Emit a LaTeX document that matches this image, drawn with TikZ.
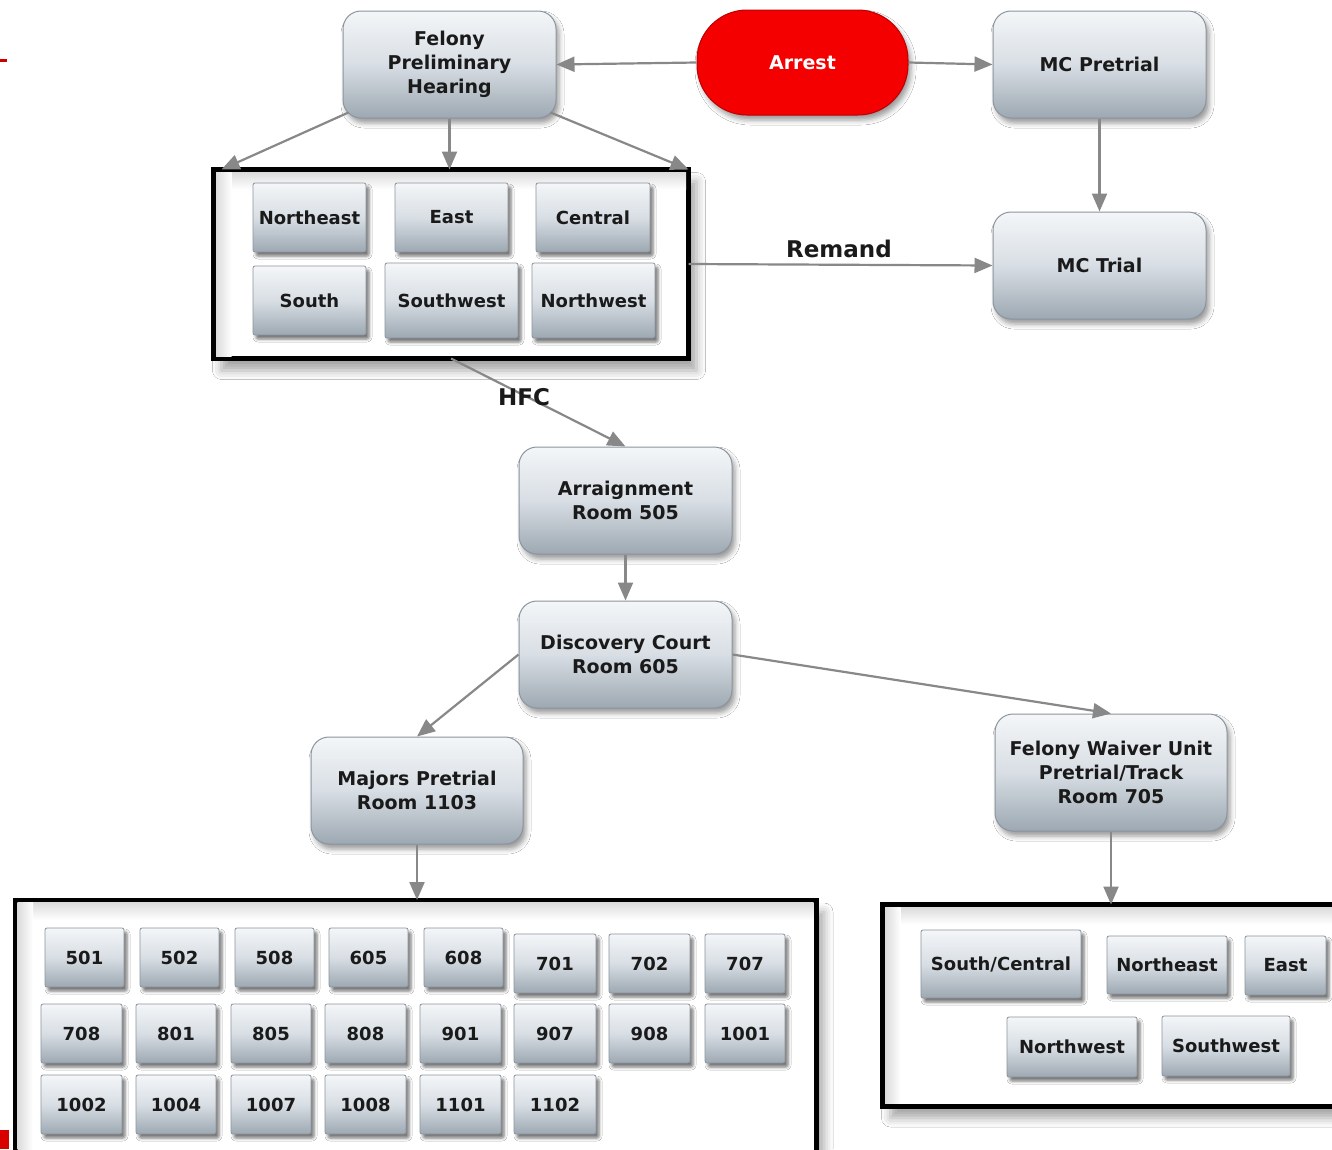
\documentclass[tikz,border=0pt]{standalone}
\usepackage{fontspec}
\setmainfont{DejaVu Sans}
\usetikzlibrary{shadows.blur,arrows.meta,calc}
\definecolor{boxtop}{HTML}{F4F6F8}
\definecolor{boxmid}{HTML}{D8DEE4}
\definecolor{boxbot}{HTML}{9DA8B2}
\definecolor{boxline}{HTML}{8C959E}
\definecolor{arrowgray}{HTML}{888888}
\definecolor{txt}{HTML}{1A1A1A}
\definecolor{arrestred}{HTML}{F40000}
\tikzset{
 bigbox/.style={draw=boxline, line width=1pt, rounded corners=18pt, top color=boxtop, bottom color=boxbot, middle color=boxmid, minimum width=213pt, minimum height=107pt, inner sep=0pt, align=center, text=txt, font=\fontsize{19}{24}\selectfont\bfseries, blur shadow={shadow xshift=3pt, shadow yshift=-5pt, shadow blur radius=5pt, shadow opacity=40}},
 smallbox/.style={draw=boxline, line width=0.8pt, rounded corners=2pt, top color=boxtop, bottom color=boxbot, middle color=boxmid, inner sep=0pt, text=txt, font=\fontsize{18}{22}\selectfont\bfseries, blur shadow={shadow xshift=3pt, shadow yshift=-4pt, shadow blur radius=3pt, shadow opacity=55}},
 groupframe/.style={draw=black, line width=5pt, fill=white, inner sep=0pt, outer sep=0pt, blur shadow={shadow xshift=8pt, shadow yshift=-12pt, shadow blur radius=9pt, shadow opacity=35}},
 flow/.style={draw=arrowgray, line width=2.2pt, -{Triangle[length=18pt,width=15pt]}},
 lbl/.style={font=\fontsize{23}{26}\selectfont\bfseries, text=txt, inner sep=0pt},
}
\begin{document}
\begin{tikzpicture}[x=1pt,y=-1pt]
\useasboundingbox (0,0) rectangle (1332,1149);
\clip (0,0) rectangle (1332,1149);
\fill[white] (0,0) rectangle (1332,1149);
\fill[red!80!black] (0,59) rectangle (7,62);
\fill[red!85!black] (0,1130) rectangle (9,1149);

% group frames
\node[groupframe, minimum width=475pt, minimum height=189pt] (topframe) at (451,264) {};
\node[groupframe, minimum width=801pt, minimum height=270pt] (botframe) at (415.5,1035) {};
\node[groupframe, minimum width=467.5pt, minimum height=201.5pt] (rframe) at (1116.25,1005.25) {};
\foreach \f in {topframe,botframe,rframe}{
 \shade[top color=gray!28, bottom color=white] ($(\f.north west)+(2.5,2.5)$) rectangle ($(\f.north east)+(-2.5,20)$);
 \shade[left color=gray!28, right color=white] ($(\f.north west)+(2.5,2.5)$) rectangle ($(\f.south west)+(18,-2.5)$);
}

% top group
\node[smallbox, minimum width=113pt, minimum height=69pt] (tne) at (309.5,217.5) {Northeast};
\node[smallbox, minimum width=113pt, minimum height=69pt] (te) at (451.5,217.5) {East};
\node[smallbox, minimum width=114pt, minimum height=69pt] (tc) at (593,217.5) {Central};
\node[smallbox, minimum width=113pt, minimum height=69pt] (ts) at (309.5,300.5) {South};
\node[smallbox, minimum width=133pt, minimum height=75pt] (tsw) at (451.5,300.5) {Southwest};
\node[smallbox, minimum width=123pt, minimum height=75pt] (tnw) at (593.5,300.5) {Northwest};

% bottom-left group
\foreach \t/\cx/\w in {501/84.5/79,502/179.5/79,508/274.5/79,605/368.5/79,608/463.5/79}
 \node[smallbox, minimum width=\w pt, minimum height=59pt] (r\t) at (\cx,957.5) {\t};
\foreach \t/\cx/\w in {701/555/82,702/649.5/81,707/745/80}
 \node[smallbox, minimum width=\w pt, minimum height=59pt] (r\t) at (\cx,963.5) {\t};
\foreach \t/\cx/\w in {708/81.5/81,801/176/80,805/271/80,808/365.5/81,901/460.5/81,907/555/82,908/649.5/81,1001/745/80}
 \node[smallbox, minimum width=\w pt, minimum height=59pt] (r\t) at (\cx,1033.5) {\t};
\foreach \t/\cx/\w in {1002/81.5/81,1004/176/80,1007/271/80,1008/365.5/81,1101/460.5/81,1102/555/82}
 \node[smallbox, minimum width=\w pt, minimum height=59pt] (r\t) at (\cx,1104.5) {\t};

% bottom-right group
\node[smallbox, minimum width=160pt, minimum height=68pt] (bsc) at (1001,964) {South/Central};
\node[smallbox, minimum width=120pt, minimum height=58pt] (bne) at (1167,965) {Northeast};
\node[smallbox, minimum width=81pt, minimum height=59pt] (be) at (1285.5,965.5) {East};
\node[smallbox, minimum width=130pt, minimum height=60pt] (bnw) at (1072,1047) {Northwest};
\node[smallbox, minimum width=128pt, minimum height=60pt] (bsw) at (1226,1046) {Southwest};

% main nodes
\node[bigbox] (fph) at (449.5,64.5) {Felony\\Preliminary\\Hearing};
\node[bigbox, rounded corners=50pt, draw=red!75!black, top color=arrestred, bottom color=arrestred, middle color=arrestred, text=white, minimum width=211pt, minimum height=105pt] (arrest) at (802.5,62.5) {Arrest};
\node[bigbox] (mcp) at (1099.5,64.5) {MC Pretrial};
\node[bigbox] (mct) at (1099.5,265.5) {MC Trial};
\node[bigbox] (arr) at (625.5,500.5) {Arraignment\\Room 505};
\node[bigbox] (disc) at (625.5,654.5) {Discovery Court\\Room 605};
\node[bigbox, minimum width=212pt] (maj) at (417,790.5) {Majors Pretrial\\Room 1103};
\node[bigbox, minimum width=232pt, minimum height=117pt] (fwu) at (1111,772.5) {Felony Waiver Unit\\Pretrial/Track\\Room 705};

% connectors
\draw[flow] (arrest.west) -- (fph.east);
\draw[flow] (arrest.east) -- (mcp.west);
\draw[flow] (mcp.south) -- (mct.north);
\draw[flow] ($(fph.south west)+(6,-6)$) -- ($(topframe.north west)+(8,0)$);
\draw[flow] (fph.south) -- (fph.south |- topframe.north);
\draw[flow] ($(fph.south east)+(-6,-6)$) -- (topframe.north east);
\draw[flow] (topframe.east) -- (mct.west);
\draw[flow] (topframe.south) -- (arr.north);
\draw[flow] (arr.south) -- (disc.north);
\draw[flow] (disc.west) -- (maj.north);
\draw[flow] (disc.east) -- (fwu.north);
\draw[flow] (maj.south) -- (maj.south |- botframe.north);
\draw[flow] (fwu.south) -- (fwu.south |- rframe.north);

\node[lbl] (remand) at (839,249) {Remand};
\node[lbl] (hfc) at (524,397) {HFC};
\end{tikzpicture}
\end{document}
